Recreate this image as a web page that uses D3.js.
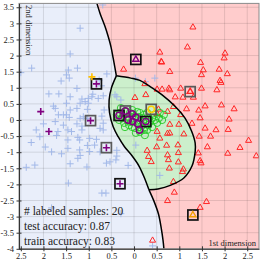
<!DOCTYPE html>
<html>
<head>
<meta charset="utf-8">
<script src="https://cdn.jsdelivr.net/npm/d3@7"></script>
<style>
  body { margin: 0; background: #fff; }
  text { font-family: "Liberation Serif", "DejaVu Serif", serif; }
</style>
</head>
<body>
<div id="chart"></div>
<script>
// ticks and labels
const xTicks = [-2.5, -2, -1.5, -1, -0.5, 0, 0.5, 1, 1.5, 2, 2.5];
const yTicks = [3.5, 3, 2.5, 2, 1.5, 1, 0.5, 0, -0.5, -1, -1.5, -2, -2.5, -3, -3.5, -4];
const xLabel = "1st dimension";
const yLabel = "2nd dimension";
const statLines = ["# labeled samples: 20", "test accuracy: 0.87", "train accuracy: 0.83"];

// decision boundaries
const upperBoundary = [[-0.82, 3.62], [-0.75, 3.31], [-0.64, 2.90], [-0.57, 2.59], [-0.51, 2.28], [-0.46, 1.92], [-0.42, 1.61], [-0.39, 1.37]];
const greenLeft = [[-0.39, 1.37], [-0.50, 0.99], [-0.55, 0.62], [-0.54, 0.22], [-0.46, -0.21], [-0.35, -0.52], [-0.21, -0.83], [-0.04, -1.12], [0.11, -1.43], [0.24, -1.83], [0.33, -2.17]];
const greenRight = [[-0.39, 1.37], [-0.07, 1.30], [0.13, 1.23], [0.35, 1.04], [0.62, 0.78], [0.91, 0.42], [1.13, 0.05], [1.27, -0.34], [1.35, -0.71], [1.35, -0.99], [1.28, -1.43], [1.10, -1.80], [0.80, -2.03], [0.53, -2.14], [0.33, -2.17]];
const lowerBoundary = [[0.33, -2.17], [0.44, -2.52], [0.54, -2.92], [0.60, -3.35], [0.64, -3.73], [0.66, -4.0]];

// unlabeled samples
const blueCrosses = [[-0.69, 3.57], [-1.19, 2.85], [-1.41, 2.05], [-2.26, 1.61], [-2.50, 1.47], [-1.45, 1.55], [-1.25, 1.61], [-1.49, 1.40], [-1.43, 1.30], [-1.61, 1.21],
  [-0.60, 1.43], [-0.77, 1.24], [-1.26, 0.98], [-1.88, 0.81], [-1.66, 0.81], [-1.15, 0.65], [-1.01, 0.67], [-0.93, 0.72], [-1.41, 0.72], [-0.72, 1.06],
  [-1.19, 0.52], [-1.08, 0.57], [-1.01, 0.52], [-1.78, 0.43], [-1.74, 0.36], [-1.41, 0.31], [-1.26, 0.36], [-1.03, 0.33], [-0.66, 0.31], [-0.71, 0.12],
  [-1.67, 0.16], [-1.56, 0.16], [-1.49, 0.16], [-1.43, 0.08], [-1.19, 0.05], [-1.12, 0.10], [-1.03, 0.05], [-0.68, -0.10], [-2.00, -0.12], [-1.74, -0.05],
  [-1.56, -0.16], [-1.26, -0.12], [-1.15, -0.19], [-0.75, -0.26], [-1.49, 0.52], [-0.91, 0.80], [-0.79, 0.67], [-0.68, 0.75], [-2.16, -0.31], [-1.46, -0.31],
  [-1.38, -0.36], [-1.68, -0.36], [-1.15, -0.31], [-0.68, -0.31], [-2.08, -0.52], [-1.46, -0.62], [-1.24, -0.54], [-1.20, -0.62], [-0.98, -0.57], [-0.83, -0.60],
  [-2.27, -0.70], [-1.96, -0.84], [-1.71, -0.48], [-1.03, -0.79], [-0.87, -0.78], [-1.46, -0.88], [-1.82, -0.99], [-1.60, -1.05], [-1.20, -0.93], [-0.98, -0.98],
  [-1.19, -1.10], [-0.75, -0.99], [-0.38, -0.94], [-0.38, -1.12], [-0.40, -1.24], [-1.24, -1.19], [-0.53, -1.30], [-1.41, -1.36], [-1.04, -1.46], [-0.13, -1.41],
  [-2.19, -1.40], [-2.38, -1.47], [-0.61, -1.34], [-1.45, -1.96], [-0.71, -2.27], [-0.62, -2.27], [-1.82, -2.73], [-0.29, -2.91], [0.41, -3.91], [0.04, -0.78],
  [0.57, -1.72], [0.03, 1.30], [0.25, 1.19], [0.46, 1.30], [-0.38, 0.72], [-0.42, 0.78], [-0.29, 0.62]];

const redTriangles = [[1.30, 2.88], [1.18, 2.26], [0.57, 2.10], [2.01, 2.07], [1.99, 1.92], [0.60, 1.81], [0.61, 1.79], [1.47, 1.78], [0.79, 1.50], [1.53, 1.55],
  [1.88, 1.57], [1.49, 1.40], [2.06, 1.43], [1.90, 1.22], [1.92, 1.16], [-0.23, 1.57], [0.51, 0.95], [0.62, 0.95], [0.77, 0.98], [0.79, 0.93],
  [1.03, 0.98], [1.49, 0.98], [1.83, 0.93], [0.26, 0.78], [0.24, 1.12], [0.91, 0.71], [1.08, 0.70], [1.31, 0.70], [1.57, 0.43], [1.93, 0.46],
  [2.21, 0.34], [1.16, 0.34], [1.43, 0.30], [0.87, 0.41], [0.74, 0.26], [0.54, 0.33], [0.51, 0.19], [1.46, 0.06], [2.10, 0.02], [1.03, 0.16],
  [0.79, -0.14], [0.99, -0.14], [1.28, -0.11], [1.57, -0.26], [1.81, -0.31], [2.08, -0.30], [0.51, -0.36], [0.74, -0.42], [0.79, -0.41], [1.10, -0.44],
  [1.44, -0.51], [1.69, -0.51], [2.53, -0.64], [0.57, -0.57], [0.72, -0.79], [0.97, -0.78], [0.50, -0.84], [1.62, -0.84], [2.34, -0.86], [0.29, -0.95],
  [0.32, -1.14], [0.38, -1.30], [0.74, -1.09], [0.76, -1.24], [0.98, -1.02], [0.98, -1.31], [1.42, -1.03], [2.07, -1.04], [2.70, -1.12], [1.46, -1.27],
  [1.48, -1.34], [0.78, -1.50], [1.09, -1.53], [1.07, -1.61], [0.87, -1.92], [0.89, -2.25], [0.74, -2.51], [1.60, -2.54], [1.46, -2.72], [0.41, -3.74],
  [0.02, 0.69]];

const greenCircles = [[-0.38, 0.16], [-0.31, 0.22], [-0.26, 0.06], [-0.33, 0.00], [-0.22, -0.09], [-0.15, 0.00], [-0.11, 0.09], [-0.09, 0.22], [-0.04, 0.31], [0.00, 0.06],
  [0.02, 0.00], [0.11, 0.09], [0.13, 0.22], [0.18, 0.06], [0.22, 0.16], [0.29, 0.22], [0.33, 0.06], [0.35, -0.06], [0.40, 0.06], [0.44, 0.16],
  [0.46, 0.00], [0.51, -0.09], [0.24, -0.22], [0.31, -0.16], [0.18, -0.16], [0.11, -0.22], [0.02, -0.25], [-0.04, -0.22], [-0.11, -0.16], [-0.20, -0.22],
  [0.13, -0.37], [0.22, -0.31], [0.29, -0.31], [0.40, -0.22], [0.55, 0.06], [0.62, 0.00], [0.57, 0.22], [0.66, 0.16], [0.07, 0.25], [-0.18, 0.25],
  [-0.29, 0.37], [0.20, -0.06], [-0.07, -0.06], [0.04, -0.40], [0.24, -0.47]];

// labeled samples
const purpleCrosses = [[-2.06, 0.26], [-1.88, -0.36], [-0.83, 1.12], [-0.96, -0.02], [-0.61, -0.86], [-0.31, -1.98]];
const purpleTriangles = [[0.04, 1.88]];
const purpleCircles = [[-0.19, 0.28], [-0.33, 0.14], [0.26, -0.05], [-0.04, 0.19], [0.04, 0.09], [-0.03, -0.05], [0.08, -0.12], [0.12, -0.31], [-0.13, 0.00]];
const yellowCrosses = [[-0.93, 1.34]];
const yellowCircles = [[0.38, 0.33]];
const orangeTriangles = [[1.30, -2.95]];
const boxedTriangles = [[1.24, 0.88]];

// squares around some of the labeled samples
const darkBoxes = [[-0.83, 1.12], [-0.31, -1.98], [0.04, 1.88], [-0.33, 0.14], [0.26, -0.05], [1.30, -2.95]];
const grayBoxes = [[-0.96, -0.02], [-0.61, -0.86], [-0.19, 0.28], [1.24, 0.88], [0.38, 0.33]];

const width = 264, height = 264;
const x = d3.scaleLinear().domain([-2.54, 2.76]).range([19, 259]);
const y = d3.scaleLinear().domain([-4.0, 3.62]).range([248.8, 3.4]);
const [x0, x1] = x.domain();
const [y0, y1] = y.domain();

const svg = d3.select("#chart").append("svg").attr("width", width).attr("height", height);

svg.append("defs").append("clipPath").attr("id", "plotClip")
    .append("rect").attr("x", x(x0)).attr("y", y(y1))
    .attr("width", x(x1) - x(x0)).attr("height", y(y0) - y(y1));

const plot = svg.append("g").attr("clip-path", "url(#plotClip)");

// smooth segment as path string
const curve = d3.line().x(d => x(d[0])).y(d => y(d[1])).curve(d3.curveCatmullRom);
const join = seg => curve(seg).replace(/^M/, "L");

// region fills
plot.append("rect").attr("x", x(x0)).attr("y", y(y1))
    .attr("width", x(x1) - x(x0)).attr("height", y(y0) - y(y1))
    .attr("fill", "#ffcccc");

let bluePath = "M" + x(x0) + "," + y(y1) + join(upperBoundary) + join(greenLeft) + join(lowerBoundary)
    + "L" + x(x0) + "," + y(y0) + "Z";
plot.append("path").attr("d", bluePath).attr("fill", "#e9eefa");

let greenPath = curve(greenLeft) + join(greenRight.slice().reverse()) + "Z";
plot.append("path").attr("d", greenPath).attr("fill", "#ccefcc");

// grid
plot.selectAll(".vgrid").data(xTicks).enter().append("line")
    .attr("x1", d => x(d)).attr("x2", d => x(d)).attr("y1", y(y0)).attr("y2", y(y1))
    .attr("stroke", "#000").attr("stroke-opacity", 0.11);
plot.selectAll(".hgrid").data(yTicks).enter().append("line")
    .attr("y1", d => y(d)).attr("y2", d => y(d)).attr("x1", x(x0)).attr("x2", x(x1))
    .attr("stroke", "#000").attr("stroke-opacity", 0.11);

// unlabeled points
plot.selectAll(".blue").data(blueCrosses).enter().append("path")
    .attr("transform", d => "translate(" + x(d[0]) + "," + y(d[1]) + ")")
    .attr("d", "M-3.5,0H3.5M0,-3.5V3.5")
    .attr("stroke", "#a2b8e8").attr("stroke-width", 1).attr("fill", "none");

const tri = d3.symbol(d3.symbolTriangle, 16);
plot.selectAll(".red").data(redTriangles).enter().append("path")
    .attr("transform", d => "translate(" + x(d[0]) + "," + y(d[1]) + ")")
    .attr("d", tri).attr("stroke", "#ff2626").attr("stroke-width", 1).attr("fill", "none");

plot.selectAll(".green").data(greenCircles).enter().append("circle")
    .attr("cx", d => x(d[0])).attr("cy", d => y(d[1])).attr("r", 3.6)
    .attr("stroke", "#22c822").attr("stroke-width", 0.9).attr("fill", "none");

// decision boundary lines
[upperBoundary, greenLeft, greenRight, lowerBoundary].forEach(seg => {
    plot.append("path").attr("d", curve(seg))
        .attr("fill", "none").attr("stroke", "#000").attr("stroke-width", 1.5);
});

// labeled points
function drawBoxes(data, color) {
    plot.selectAll(null).data(data).enter().append("rect")
        .attr("x", d => x(d[0]) - 5).attr("y", d => y(d[1]) - 5)
        .attr("width", 10).attr("height", 10)
        .attr("fill", "none").attr("stroke", color).attr("stroke-width", 1.7);
}
drawBoxes(grayBoxes, "#5a5a5a");
drawBoxes(darkBoxes, "#111");

function drawCrosses(data, color) {
    plot.selectAll(null).data(data).enter().append("path")
        .attr("transform", d => "translate(" + x(d[0]) + "," + y(d[1]) + ")")
        .attr("d", "M-3.5,0H3.5M0,-3.5V3.5")
        .attr("stroke", color).attr("stroke-width", 1.6).attr("fill", "none");
}
function drawTriangles(data, color) {
    plot.selectAll(null).data(data).enter().append("path")
        .attr("transform", d => "translate(" + x(d[0]) + "," + y(d[1]) + ")")
        .attr("d", tri).attr("stroke", color).attr("stroke-width", 1.4).attr("fill", "none");
}
function drawCircles(data, color) {
    plot.selectAll(null).data(data).enter().append("circle")
        .attr("cx", d => x(d[0])).attr("cy", d => y(d[1])).attr("r", 3.2)
        .attr("stroke", color).attr("stroke-width", 1.5).attr("fill", "none");
}
drawCrosses(purpleCrosses, "#800080");
drawCrosses(yellowCrosses, "#ffc000");
drawTriangles(purpleTriangles, "#800080");
drawTriangles(boxedTriangles, "#ff2626");
drawTriangles(orangeTriangles, "#f0a000");
drawCircles(purpleCircles, "#800080");
drawCircles(yellowCircles, "#ffd000");

// frame
svg.append("rect").attr("x", x(x0)).attr("y", y(y1))
    .attr("width", x(x1) - x(x0)).attr("height", y(y0) - y(y1))
    .attr("fill", "none").attr("stroke", "#8a8a8a").attr("stroke-width", 1);

// axes
let yAxis = svg.append("g").attr("transform", "translate(" + x(x0) + ",0)")
    .call(d3.axisLeft(y).tickValues(yTicks).tickSize(3).tickSizeOuter(0).tickPadding(2)
        .tickFormat(d => String(d)));
let xAxis = svg.append("g").attr("transform", "translate(0," + y(y0) + ")")
    .call(d3.axisBottom(x).tickValues(xTicks).tickSize(3).tickSizeOuter(0).tickPadding(1)
        .tickFormat(d => String(Math.abs(d))));

yAxis.selectAll(".tick line").attr("x1", 2.5).attr("x2", -2.5);
xAxis.selectAll(".tick line").attr("y1", -2.5).attr("y2", 2.5);
[xAxis, yAxis].forEach(a => {
    a.select(".domain").attr("stroke", "#333");
    a.selectAll(".tick line").attr("stroke", "#333");
    a.selectAll("text").attr("font-family", "Liberation Serif, serif").attr("font-size", 8.5).attr("fill", "#222");
});

// axis labels
svg.append("text").attr("x", 256).attr("y", 245.5).attr("text-anchor", "end")
    .attr("font-size", 8.5).attr("fill", "#222").text(xLabel);
svg.append("text").attr("transform", "translate(26,5) rotate(90)")
    .attr("font-size", 8.5).attr("fill", "#222").text(yLabel);

// stats box
svg.selectAll(".stat").data(statLines).enter().append("text")
    .attr("x", 24).attr("y", (d, i) => [215, 230, 244.5][i])
    .attr("font-size", 11.5).attr("fill", "#222").text(d => d);
</script>
</body>
</html>
